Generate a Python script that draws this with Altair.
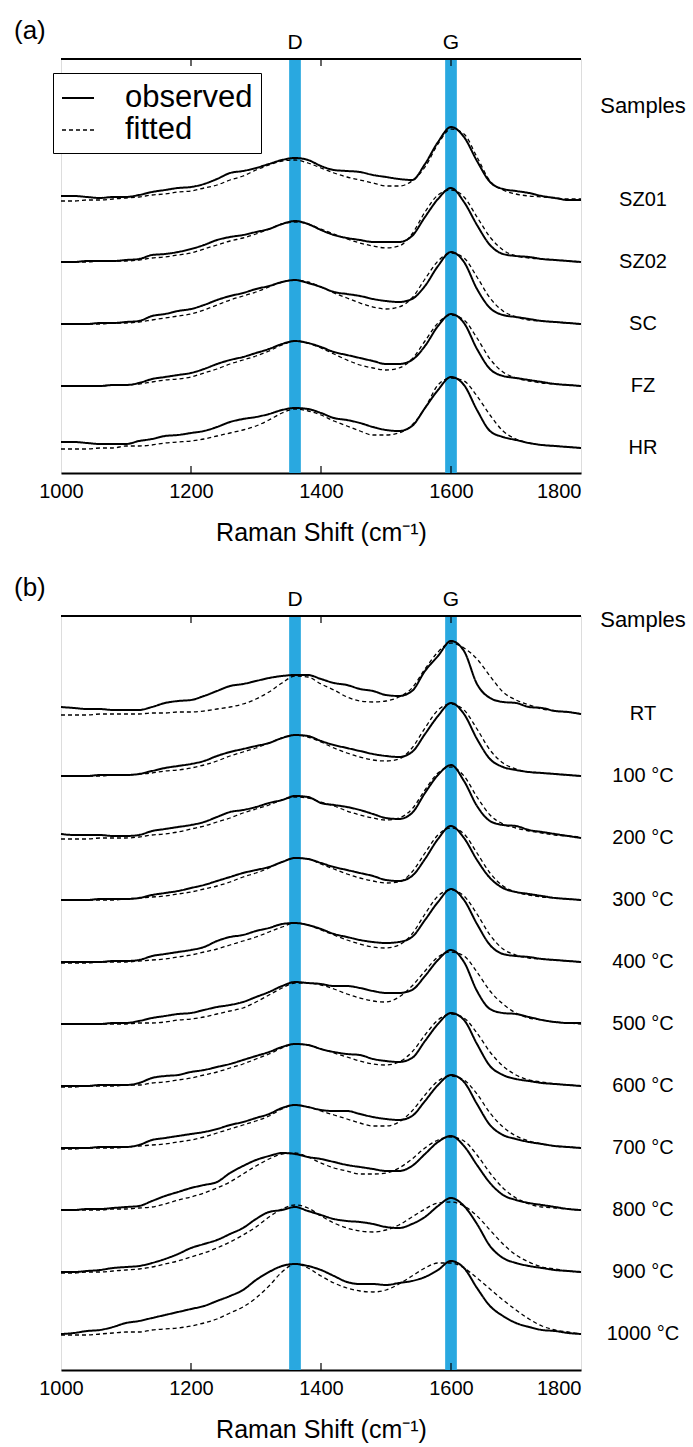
import altair as alt
import pandas as pd

# Raman shift grid (cm^-1)
shift = list(range(1000, 1801, 20))

# ---- panel (a): intensities (a.u.) above each baseline ----
SZ01_obs = [4,4,3,2,3,3,5,8,10,12,13,16,21,27,29,32,36,40,42,40,34,30,29,28,25,23,21,20,36,58,73,63,39,18,11,9,7,4,2,0,0]
SZ01_fit = [-1,-1,0,0,1,2,3,5,6,8,9,12,15,20,24,30,35,39,40,37,32,27,23,20,17,14,14,19,33,56,71,66,43,19,10,6,4,3,2,1,1]
SZ02_obs = [0,0,1,1,1,2,3,7,8,10,13,17,22,25,27,30,33,38,41,38,32,27,24,22,20,20,20,26,45,63,74,60,37,17,8,6,5,3,2,1,0]
SZ02_fit = [0,0,0,1,1,1,2,4,5,7,9,13,17,21,24,28,33,38,40,38,33,28,23,19,16,14,16,28,50,67,72,65,45,25,12,6,4,3,2,1,0]
SC_obs = [0,0,0,1,1,2,3,8,10,13,15,19,24,28,31,35,38,42,44,41,37,32,30,28,25,23,22,25,38,58,72,62,35,16,9,7,5,3,2,1,0]
SC_fit = [0,0,0,0,1,1,2,4,6,8,10,14,19,24,28,32,37,42,44,42,37,31,26,21,17,15,17,26,45,63,71,66,47,26,13,7,4,3,2,1,0]
FZ_obs = [0,0,0,0,1,1,3,7,9,11,13,17,22,26,29,33,37,42,45,43,39,34,31,28,25,22,22,26,40,60,72,63,37,17,10,8,6,4,2,1,0]
FZ_fit = [0,0,0,0,1,1,2,4,6,7,9,13,17,22,26,30,35,41,45,43,38,32,26,21,18,16,18,27,45,63,71,66,48,27,14,8,5,3,2,1,0]
HR_obs = [6,6,5,4,4,4,7,9,12,13,15,17,21,26,29,31,34,38,40,39,35,30,28,25,21,18,17,22,40,58,71,63,38,17,11,8,5,3,2,1,0]
HR_fit = [-1,-1,-1,0,0,2,2,3,5,6,7,9,12,15,18,22,28,35,39,37,33,27,22,17,13,13,15,23,40,63,70,67,52,33,17,9,5,3,2,1,0]

# ---- panel (b) ----
RT_obs = [7,6,5,5,4,4,4,7,11,13,14,18,23,28,30,33,36,38,39,39,35,31,29,25,23,19,18,23,43,58,73,63,30,16,12,11,7,6,3,2,0]
RT_fit = [-1,-1,-1,0,0,0,0,1,1,2,2,3,5,7,10,15,22,31,38,37,30,24,17,13,12,13,17,26,45,62,71,66,55,38,22,14,9,5,3,2,0]
T100_obs = [0,0,0,1,1,1,2,5,8,10,12,15,20,24,27,30,33,38,41,40,35,31,28,25,22,20,19,24,42,60,73,62,37,17,9,6,4,3,2,1,0]
T100_fit = [0,0,0,0,1,1,2,3,5,6,8,11,15,20,24,28,33,38,41,39,34,28,23,19,16,15,17,28,48,66,72,66,47,26,13,7,4,3,2,1,0]
T200_obs = [4,3,3,3,2,2,3,7,9,11,13,16,21,26,28,31,35,38,42,41,35,33,31,28,24,20,19,25,45,63,73,57,32,17,13,12,8,6,4,2,0]
T200_fit = [-1,-1,-1,0,0,0,1,3,4,6,9,12,16,20,25,29,33,38,41,40,36,32,27,23,20,18,20,29,48,65,71,62,41,23,14,10,7,5,3,2,1]
T300_obs = [0,0,0,1,1,1,2,5,7,9,12,15,19,23,27,30,33,38,42,41,37,33,30,27,24,20,19,24,41,61,74,62,40,22,12,8,6,4,2,1,0]
T300_fit = [0,0,0,0,0,1,2,3,4,6,8,11,14,18,23,27,32,38,42,41,36,31,26,22,19,17,18,28,47,65,72,66,47,27,14,8,5,3,2,1,0]
T400_obs = [0,0,0,0,1,1,2,6,8,10,12,15,21,25,27,31,34,38,39,37,33,28,25,22,20,19,20,25,42,60,73,62,38,17,8,6,5,3,2,1,0]
T400_fit = [-1,-1,-1,0,0,0,1,2,3,5,7,10,13,17,21,25,30,35,39,37,32,27,22,18,15,14,17,28,48,66,72,66,48,27,13,7,4,3,2,1,0]
T500_obs = [0,0,0,0,1,1,3,6,8,10,11,14,17,19,22,27,32,38,42,41,40,38,38,36,33,31,31,34,48,64,74,62,33,15,11,10,7,4,2,1,1]
T500_fit = [0,0,0,0,0,0,1,1,2,4,5,7,10,13,16,22,29,36,41,41,39,35,30,26,23,22,27,38,53,67,72,68,52,33,20,11,6,4,2,1,0]
T600_obs = [0,0,0,1,1,1,3,8,10,11,14,16,19,22,26,30,34,39,42,41,37,34,32,31,27,25,24,28,45,62,73,66,42,20,11,7,5,3,2,1,0]
T600_fit = [-1,-1,0,0,0,1,1,3,4,6,8,11,14,18,22,27,32,38,42,41,37,33,29,25,22,21,24,34,51,66,72,68,53,34,20,11,6,4,2,1,0]
T700_obs = [0,0,0,1,1,1,3,8,10,12,14,16,19,23,26,30,34,40,43,41,38,37,37,34,31,29,28,32,47,63,73,66,44,23,13,9,6,4,2,1,0]
T700_fit = [-1,-1,0,0,0,1,2,3,4,6,8,11,15,19,23,27,32,39,43,41,37,33,29,25,22,22,26,37,53,67,72,68,54,35,21,12,7,4,2,1,0]
T800_obs = [0,0,1,1,2,3,4,9,14,18,22,25,28,37,44,50,54,57,56,53,51,48,45,43,41,39,39,44,56,68,74,64,45,27,15,10,7,5,3,1,0]
T800_fit = [0,0,0,0,1,1,2,3,6,10,13,17,22,28,36,44,51,56,57,53,47,42,39,36,36,37,42,51,62,70,73,69,55,37,22,12,6,3,2,1,0]
T900_obs = [0,0,1,2,4,5,6,9,13,18,24,28,32,38,44,53,60,62,65,61,57,53,51,50,48,45,44,48,55,66,74,66,48,26,14,9,6,4,2,1,0]
T900_fit = [-1,-1,0,0,1,2,3,5,8,11,15,19,24,30,37,45,55,63,67,64,56,49,44,41,40,42,47,55,63,69,70,66,56,42,28,17,10,5,3,1,0]
T1000_obs = [0,1,3,4,7,11,13,16,19,22,25,28,33,38,44,54,62,68,70,68,64,58,52,50,50,49,51,53,57,64,73,66,46,28,18,11,7,4,3,1,0]
T1000_fit = [-1,-1,-1,0,1,2,2,4,5,6,8,11,15,21,27,36,48,62,70,66,58,51,46,43,42,44,50,58,66,71,71,66,56,45,34,24,15,8,4,2,0]

samples_a = ["SZ01", "SZ02", "SC", "FZ", "HR"]
obs_a = [SZ01_obs, SZ02_obs, SC_obs, FZ_obs, HR_obs]
fit_a = [SZ01_fit, SZ02_fit, SC_fit, FZ_fit, HR_fit]
offsets_a = [248, 186, 124, 62, 0]

samples_b = ["RT", "100 °C", "200 °C", "300 °C", "400 °C", "500 °C",
             "600 °C", "700 °C", "800 °C", "900 °C", "1000 °C"]
obs_b = [RT_obs, T100_obs, T200_obs, T300_obs, T400_obs, T500_obs,
         T600_obs, T700_obs, T800_obs, T900_obs, T1000_obs]
fit_b = [RT_fit, T100_fit, T200_fit, T300_fit, T400_fit, T500_fit,
         T600_fit, T700_fit, T800_fit, T900_fit, T1000_fit]
offsets_b = [620, 558, 496, 434, 372, 310, 248, 186, 124, 62, 0]

band_names = ["D", "G"]
band_centers = [1360, 1600]
band_lo = [1351, 1591]
band_hi = [1369, 1609]
tick_values = [1200, 1400, 1600]
axis_values = [1000, 1200, 1400, 1600, 1800]
kinds = ["observed", "fitted"]

BLUE = "#29A8E0"
FONT = "Liberation Sans"
W = 520


def long_df(samples, obs, fit, offsets):
    rows = []
    for s, o, f, off in zip(samples, obs, fit, offsets):
        for x, v in zip(shift, o):
            rows.append({"shift": x, "y": v + off, "sample": s, "kind": "observed"})
        for x, v in zip(shift, f):
            rows.append({"shift": x, "y": v + off, "sample": s, "kind": "fitted"})
    return pd.DataFrame(rows)


bands_df = pd.DataFrame({"peak": band_names, "center": band_centers, "lo": band_lo, "hi": band_hi})
ticks_df = pd.DataFrame({"tick": tick_values})
one_df = pd.DataFrame({"a": [0]})


def panel(samples, obs, fit, offsets, ydomain, height, letter, samples_y, with_legend):
    xscale = alt.Scale(domain=[1000, 1800], nice=False, zero=False)
    yscale = alt.Scale(domain=ydomain, nice=False, zero=False)
    xaxis = alt.Axis(
        values=axis_values, format="d", grid=False, ticks=False,
        domainColor="black", domainWidth=2,
        labelFontSize=20, labelColor="black", labelPadding=8, labelFlush=False,
        labelAlign={"condition": {"test": "datum.value == 1800", "value": "right"}, "value": "center"},
        title="Raman Shift (cm⁻¹)", titleFontSize=25, titleFontWeight="normal",
        titleColor="black", titlePadding=19,
    )
    df = long_df(samples, obs, fit, offsets)
    labels_df = pd.DataFrame({"sample": samples, "offset": offsets})

    bands = alt.Chart(bands_df).mark_rect(color=BLUE).encode(
        x=alt.X("lo:Q", scale=xscale, axis=xaxis),
        x2="hi:Q",
        y=alt.value(0), y2=alt.value(height),
    )
    if with_legend:
        leg = alt.Legend(
            title=None, orient="none", legendX=-8, legendY=14,
            strokeColor="black", fillColor="white", padding=8,
            labelFontSize=31, labelColor="black", labelOffset=30, rowPadding=0,
            symbolType="stroke", symbolSize=1024, symbolStrokeWidth=1.8,
            symbolStrokeColor="black",
        )
    else:
        leg = None
    lines = alt.Chart(df).mark_line(color="black", interpolate="monotone").encode(
        x=alt.X("shift:Q", scale=xscale, axis=xaxis),
        y=alt.Y("y:Q", scale=yscale, axis=None),
        detail="sample:N",
        strokeDash=alt.StrokeDash("kind:N", scale=alt.Scale(domain=kinds, range=[[1, 0], [4, 3]]), legend=leg),
        strokeWidth=alt.StrokeWidth("kind:N", scale=alt.Scale(domain=kinds, range=[2.0, 1.3]), legend=None),
    )
    top_line = alt.Chart(one_df).mark_rule(color="black", strokeWidth=2).encode(
        x=alt.value(0), x2=alt.value(W), y=alt.value(0)
    )
    ticks_top = alt.Chart(ticks_df).mark_rule(color="black", strokeWidth=1.2).encode(
        x=alt.X("tick:Q", scale=xscale, axis=xaxis), y=alt.value(0), y2=alt.value(7)
    )
    ticks_bot = alt.Chart(ticks_df).mark_rule(color="black", strokeWidth=1.2).encode(
        x=alt.X("tick:Q", scale=xscale, axis=xaxis), y=alt.value(height - 7), y2=alt.value(height)
    )
    peak_text = alt.Chart(bands_df).mark_text(fontSize=21, baseline="middle", color="black", font=FONT).encode(
        x=alt.X("center:Q", scale=xscale, axis=xaxis), y=alt.value(-16), text="peak:N"
    )
    sample_text = alt.Chart(labels_df).mark_text(fontSize=20, align="center", baseline="middle", color="black", font=FONT).encode(
        x=alt.value(582), y=alt.Y("offset:Q", scale=yscale, axis=None), text="sample:N"
    )
    header = alt.Chart(one_df).mark_text(fontSize=22, align="center", baseline="middle", color="black", font=FONT).encode(
        x=alt.value(582), y=alt.value(samples_y), text=alt.value("Samples")
    )
    letter_text = alt.Chart(one_df).mark_text(fontSize=26, align="left", baseline="middle", color="black", font=FONT).encode(
        x=alt.value(-47), y=alt.value(-28), text=alt.value(letter)
    )
    return alt.layer(bands, lines, top_line, ticks_top, ticks_bot, peak_text,
                     sample_text, header, letter_text).properties(width=W, height=height)


pa = panel(samples_a, obs_a, fit_a, offsets_a, [-25, 389], 414, "(a)", 47, True)
pb = panel(samples_b, obs_b, fit_b, offsets_b, [-36, 718], 754, "(b)", 4, False)

chart = alt.vconcat(pa, pb, spacing=28).resolve_scale(
    strokeDash="independent", strokeWidth="independent", x="independent", y="independent"
).properties(
    padding={"left": 13, "top": 17, "right": 0, "bottom": 0}
).configure_view(stroke=None).configure(font=FONT)

chart.save("out.html", embed_options={"renderer": "svg", "actions": False})
